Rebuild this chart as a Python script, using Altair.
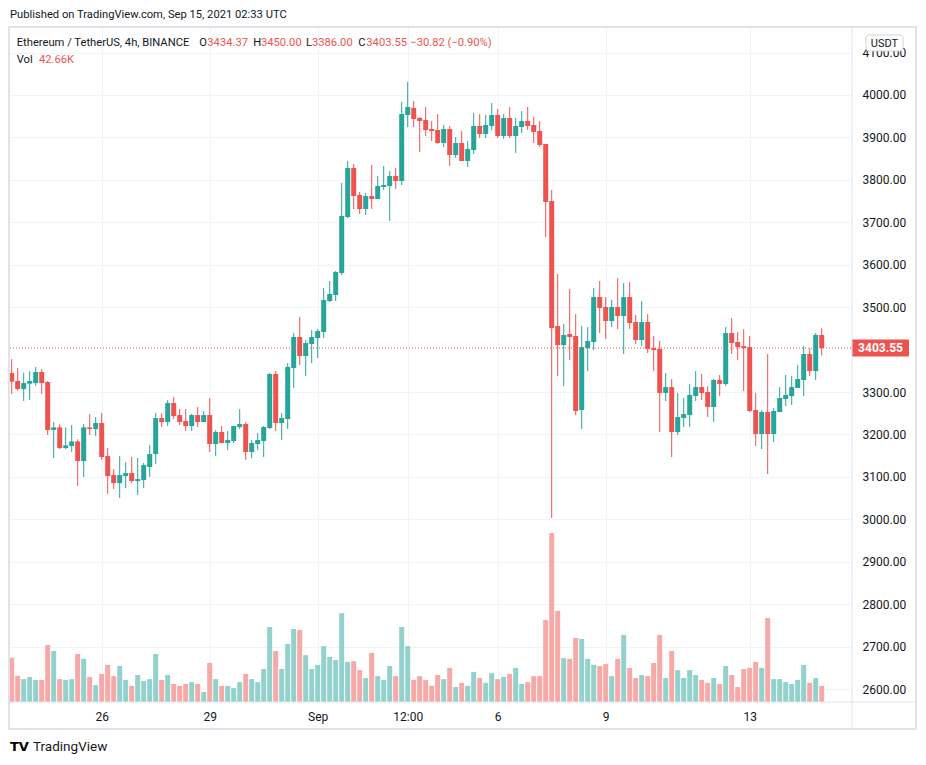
import altair as alt
import pandas as pd

# ---- OHLC (ETH/USDT, 4h candles from 2021-08-23 12:00 UTC) ----
opens = [3344.7, 3325.9, 3307.0, 3319.6, 3321.1, 3347.1, 3323.5, 3210.4, 3216.6, 3167.9,
         3172.6, 3183.6, 3137.3, 3216.6, 3212.7, 3226.9, 3149.1, 3104.3, 3085.4, 3101.9,
         3109.0, 3090.1, 3092.5, 3123.2, 3153.8, 3238.6, 3229.2, 3274.0, 3245.7, 3231.6,
         3219.8, 3245.7, 3229.2, 3245.7, 3177.4, 3205.7, 3179.7, 3184.4, 3217.4, 3224.5,
         3158.5, 3177.4, 3184.4, 3215.1, 3342.4, 3226.9, 3236.3, 3356.5, 3429.6, 3384.8,
         3413.1, 3427.2, 3441.4, 3514.4, 3528.6, 3580.4, 3712.4, 3827.9, 3764.3, 3731.3,
         3761.9, 3754.9, 3783.1, 3785.5, 3809.1, 3797.3, 3952.8, 3969.3, 3945.8, 3941.0,
         3919.8, 3917.5, 3886.8, 3919.8, 3858.6, 3886.8, 3844.4, 3870.3, 3926.9, 3908.0,
         3926.9, 3952.8, 3903.3, 3945.8, 3903.3, 3924.5, 3938.7, 3929.3, 3915.1, 3884.5,
         3750.1, 3455.5, 3410.7, 3436.6, 3432.0, 3257.5, 3403.6, 3417.8, 3523.8, 3500.3,
         3467.3, 3500.3, 3479.1, 3523.8, 3464.9, 3422.5, 3464.9, 3403.6, 3401.3, 3297.6,
         3311.7, 3205.6, 3238.7, 3245.7, 3290.5, 3311.7, 3300.0, 3264.6, 3328.2, 3318.8,
         3439.0, 3417.8, 3408.3, 3406.0, 3257.5, 3201.0, 3252.8, 3201.0, 3252.8, 3283.5,
         3290.5, 3309.4, 3328.2, 3389.5, 3349.4, 3434.37]
highs = [3377.7, 3356.5, 3345.5, 3349.4, 3358.9, 3354.1, 3325.9, 3229.2, 3223.7, 3216.6,
         3222.1, 3188.4, 3224.5, 3248.1, 3241.0, 3250.4, 3167.9, 3118.4, 3149.1, 3134.9,
         3146.7, 3144.4, 3132.6, 3175.0, 3250.4, 3250.4, 3281.1, 3288.1, 3259.9, 3259.9,
         3248.1, 3264.6, 3255.1, 3285.8, 3210.4, 3219.8, 3208.0, 3219.8, 3259.9, 3229.2,
         3186.8, 3203.3, 3219.8, 3344.7, 3349.4, 3250.4, 3368.3, 3439.0, 3476.7, 3422.5,
         3446.1, 3448.4, 3545.1, 3561.6, 3585.2, 3792.6, 3844.4, 3837.4, 3771.4, 3769.0,
         3835.0, 3809.1, 3832.6, 3820.8, 3827.9, 3983.5, 4030.6, 3985.8, 3948.1, 3971.7,
         3938.7, 3955.2, 3929.3, 3926.9, 3901.0, 3915.1, 3891.5, 3957.5, 3955.2, 3952.8,
         3981.1, 3967.0, 3955.2, 3971.7, 3945.8, 3962.3, 3971.7, 3948.1, 3938.7, 3884.5,
         3776.1, 3578.1, 3460.2, 3542.7, 3483.8, 3455.5, 3453.1, 3545.1, 3561.6, 3523.8,
         3516.8, 3568.6, 3556.9, 3559.2, 3481.5, 3514.4, 3483.8, 3431.9, 3420.1, 3344.7,
         3330.6, 3297.6, 3285.8, 3318.8, 3349.4, 3342.4, 3314.1, 3330.6, 3340.0, 3453.2,
         3474.4, 3441.4, 3448.4, 3431.9, 3297.6, 3257.5, 3389.5, 3262.2, 3311.7, 3340.0,
         3337.7, 3363.6, 3408.3, 3403.6, 3439.0, 3450.00]
lows = [3295.2, 3303.1, 3278.7, 3281.1, 3314.9, 3295.2, 3198.6, 3144.4, 3165.6, 3165.6,
        3158.5, 3078.4, 3099.6, 3198.6, 3196.2, 3139.6, 3059.5, 3071.3, 3050.1, 3073.6,
        3085.4, 3057.2, 3073.6, 3099.6, 3130.2, 3217.4, 3219.8, 3236.3, 3222.1, 3208.0,
        3208.0, 3217.4, 3229.2, 3158.5, 3149.1, 3179.7, 3163.2, 3179.7, 3212.7, 3139.7,
        3144.4, 3163.2, 3146.7, 3212.7, 3207.9, 3186.8, 3212.7, 3309.4, 3363.6, 3337.7,
        3368.3, 3380.1, 3427.2, 3512.1, 3514.4, 3575.7, 3710.1, 3731.3, 3719.5, 3717.2,
        3731.3, 3754.9, 3776.1, 3703.0, 3778.4, 3787.8, 3924.5, 3924.5, 3865.6, 3903.3,
        3891.5, 3884.5, 3877.4, 3832.6, 3851.5, 3844.4, 3830.3, 3860.9, 3898.6, 3898.6,
        3917.5, 3898.6, 3896.3, 3898.6, 3863.3, 3910.4, 3917.5, 3886.8, 3877.4, 3665.2,
        3002.9, 3337.6, 3314.1, 3375.4, 3245.7, 3212.7, 3349.4, 3398.9, 3439.0, 3424.8,
        3453.1, 3448.4, 3389.5, 3448.4, 3413.1, 3408.3, 3391.8, 3349.4, 3205.6, 3278.7,
        3146.7, 3198.6, 3217.4, 3217.4, 3278.7, 3281.1, 3241.0, 3229.2, 3290.5, 3314.1,
        3389.5, 3375.4, 3302.3, 3252.8, 3172.7, 3165.6, 3106.7, 3182.1, 3252.8, 3267.0,
        3269.3, 3309.4, 3290.5, 3337.7, 3328.2, 3386.00]
closes = [3324.3, 3307.0, 3321.1, 3325.9, 3347.1, 3321.1, 3210.4, 3216.6, 3167.9, 3174.2,
          3183.6, 3137.3, 3216.6, 3212.7, 3226.9, 3146.7, 3101.9, 3085.4, 3104.3, 3109.0,
          3090.1, 3094.9, 3127.9, 3153.8, 3238.6, 3229.2, 3274.0, 3243.4, 3229.2, 3219.8,
          3245.7, 3229.2, 3245.7, 3177.4, 3205.7, 3179.7, 3186.8, 3219.8, 3224.5, 3158.5,
          3179.7, 3186.8, 3217.4, 3342.4, 3226.9, 3238.7, 3358.9, 3429.6, 3384.8, 3415.4,
          3429.6, 3443.7, 3516.8, 3531.0, 3582.8, 3714.8, 3827.9, 3761.9, 3731.3, 3761.9,
          3754.9, 3785.5, 3787.8, 3809.1, 3797.3, 3955.2, 3971.7, 3943.4, 3938.7, 3917.5,
          3915.1, 3886.8, 3919.8, 3858.6, 3886.8, 3844.4, 3872.7, 3926.9, 3908.0, 3929.3,
          3952.8, 3903.3, 3945.8, 3903.3, 3926.9, 3938.7, 3926.9, 3912.8, 3882.1, 3747.8,
          3450.8, 3410.7, 3434.3, 3429.6, 3255.1, 3406.0, 3420.1, 3523.8, 3497.9, 3467.3,
          3500.3, 3479.1, 3523.8, 3462.6, 3422.5, 3464.9, 3401.3, 3398.9, 3297.6, 3311.7,
          3205.6, 3241.0, 3248.1, 3292.9, 3311.7, 3297.6, 3264.6, 3328.2, 3318.8, 3439.0,
          3415.4, 3406.0, 3403.6, 3255.2, 3201.0, 3252.8, 3201.0, 3255.2, 3285.8, 3292.9,
          3311.7, 3330.6, 3389.5, 3349.4, 3434.3, 3403.55]
# volume in thousands
volumes = [118, 70, 61, 67, 59, 59, 152, 136, 61, 59,
           61, 128, 115, 67, 45, 75, 99, 69, 96, 59,
           43, 72, 56, 61, 128, 59, 72, 48, 43, 48,
           53, 48, 27, 104, 61, 43, 43, 37, 53, 75,
           61, 53, 88, 200, 136, 88, 155, 195, 192, 125,
           88, 99, 149, 120, 112, 237, 107, 109, 85, 64,
           131, 69, 59, 96, 69, 200, 149, 59, 69, 59,
           43, 72, 61, 91, 40, 51, 43, 80, 64, 51,
           77, 61, 67, 75, 91, 48, 53, 69, 69, 219,
           451, 243, 117, 115, 171, 168, 115, 99, 96, 101,
           69, 115, 179, 91, 64, 72, 69, 104, 179, 64,
           136, 85, 64, 85, 72, 59, 51, 64, 48, 96,
           72, 40, 88, 91, 107, 91, 224, 61, 61, 53,
           48, 59, 99, 51, 64, 42.66]

tick_dates = [(2021, 8, 26, 0), (2021, 8, 29, 0), (2021, 9, 1, 0), (2021, 9, 3, 12),
              (2021, 9, 6, 0), (2021, 9, 9, 0), (2021, 9, 13, 0)]
# 3400.00 sits under the last-price badge, as on the reference
price_ticks = [p for p in range(2600, 4200, 100) if p != 3400]

times = pd.date_range("2021-08-23 12:00", periods=len(closes), freq="4h").strftime("%Y-%m-%dT%H:%M:%SZ")
df = pd.DataFrame({"t": list(times), "o": opens, "h": highs, "l": lows, "c": closes, "v": volumes})
last = df.tail(1)
blank = pd.DataFrame({"k": [0]})

G, R = "#26a69a", "#ef5350"
GV, RV = "#93d2cc", "#f7a9a7"
DARK = "#131722"
FONT = "Roboto"
W, H = 842, 674

x_scale = alt.Scale(type="utc", nice=False, padding=0,
                    domain=[alt.DateTime(year=2021, month=8, date=23, hours=10, minutes=52, utc=True),
                            alt.DateTime(year=2021, month=9, date=15, hours=20, minutes=12, utc=True)])
x_axis = alt.Axis(values=[alt.DateTime(year=y, month=m, date=d, hours=hh, utc=True) for y, m, d, hh in tick_dates],
                  labelExpr="utchours(datum.value) == 12 ? '12:00' : (utcdate(datum.value) == 1 ? utcFormat(datum.value, '%b') : '' + utcdate(datum.value))",
                  grid=True, gridColor="#f0f3fa", ticks=False, domain=False, labelPadding=9,
                  labelFontSize=12, labelColor=DARK, labelFont=FONT, title=None, zindex=0,
                  labelFlush=False, labelOverlap=False)
xenc = alt.X("t:T", scale=x_scale, axis=x_axis)

y_scale = alt.Scale(domain=[2569.4, 4157.9], nice=False, zero=False)
y_axis = alt.Axis(orient="right", values=price_ticks, format=".2f", grid=True, gridColor="#f0f3fa",
                  ticks=False, domain=False, labelPadding=10, labelFontSize=12, labelColor=DARK,
                  labelFont=FONT, labelAlign="left", title=None, zindex=0, labelFlush=False,
                  labelOverlap=False)

up = alt.datum.c >= alt.datum.o

vol = alt.Chart(df).mark_bar(width=5).encode(
    x=xenc,
    y=alt.Y("v:Q", scale=alt.Scale(domain=[0, 1797.6], nice=False), axis=None),
    color=alt.condition(up, alt.value(GV), alt.value(RV)),
)
wick = alt.Chart(df).mark_rule(strokeWidth=1).encode(
    x=xenc,
    y=alt.Y("l:Q", scale=y_scale, axis=y_axis),
    y2="h:Q",
    color=alt.condition(up, alt.value(G), alt.value(R)),
)
body = alt.Chart(df).mark_bar(width=5).encode(
    x=xenc,
    y=alt.Y("o:Q", scale=y_scale, axis=None),
    y2="c:Q",
    color=alt.condition(up, alt.value(G), alt.value(R)),
)
last_line = alt.Chart(last).mark_rule(color=R, strokeDash=[1, 2], strokeWidth=1).encode(
    y=alt.Y("c:Q", scale=y_scale, axis=None), x=alt.value(0), x2=alt.value(W))
badge = alt.Chart(last).mark_point(shape="M-1,-0.298H1V0.298H-1Z", size=57 * 57, filled=True,
                                   opacity=1, color=R, strokeWidth=0).encode(
    y=alt.Y("c:Q", scale=y_scale, axis=None), x=alt.value(870.5))
badge_txt = alt.Chart(last).mark_text(color="white", fontWeight="bold", fontSize=12, font=FONT,
                                      align="center", baseline="middle").encode(
    y=alt.Y("c:Q", scale=y_scale, axis=None), x=alt.value(870.5), text=alt.Text("c:Q", format=".2f"))


def rule(**kw):
    return alt.Chart(blank).mark_rule(color="#e0e3eb", strokeWidth=1).encode(**{k: alt.value(v) for k, v in kw.items()})


def txt(s, x, y, color=DARK, size=11.2, weight="normal", align="left", font=FONT):
    return alt.Chart(blank).mark_text(text=s, color=color, fontSize=size, fontWeight=weight, align=align,
                                      baseline="middle", font=font).encode(x=alt.value(x), y=alt.value(y))


frame = alt.Chart(blank).mark_rect(fill="transparent", stroke="#e0e3eb", strokeWidth=2).encode(
    x=alt.value(-1), x2=alt.value(906), y=alt.value(-1), y2=alt.value(701))
vsep = rule(x=W, y=-1, y2=701)
hsep = rule(y=H, x=-1, x2=906)
usdt_box = alt.Chart(blank).mark_rect(fill="white", stroke="#d1d4dc", strokeWidth=1, cornerRadius=3).encode(
    x=alt.value(856), x2=alt.value(893), y=alt.value(7), y2=alt.value(23))
usdt_txt = txt("USDT", 874.5, 15.5, size=11, align="center")

o, h, l, c = opens[-1], highs[-1], lows[-1], closes[-1]
chg = c - o
pct = chg / o * 100
chg_s = f"{chg:+.2f} ({pct:+.2f}%)".replace("-", "\u2212")
pc = R if chg < 0 else G

texts = [
    txt("Published on TradingView.com, Sep 15, 2021 02:33 UTC", 0, -13),
    txt("Ethereum / TetherUS, 4h, BINANCE", 6.7, 14.7),
    txt("O", 189.3, 14.7), txt(f"{o:.2f}", 197.3, 14.7, color=pc),
    txt("H", 243.3, 14.7), txt(f"{h:.2f}", 251, 14.7, color=pc),
    txt("L", 296, 14.7), txt(f"{l:.2f}", 302, 14.7, color=pc),
    txt("C", 348.3, 14.7), txt(f"{c:.2f}", 356.3, 14.7, color=pc),
    txt(chg_s, 400.3, 14.7, color=pc),
    txt("Vol", 6.7, 32), txt(f"{volumes[-1]:.2f}K", 29, 32, color=pc),
    txt("TV", 0, 719, color="#000000", size=13, weight="bold", font="DejaVu Sans"),
    txt("TradingView", 23, 719, size=13.5),
]

chart = alt.layer(
    vol, wick, body, last_line, badge, badge_txt, frame, vsep, hsep, usdt_box, usdt_txt, *texts
).resolve_scale(y="independent").properties(
    width=W, height=H,
    autosize=alt.AutoSizeParams(type="none"),
    padding={"left": 2, "top": 20, "right": 66, "bottom": 52},
    background="white",
).configure_view(stroke=None).configure_text(font=FONT)

chart.save("out.html", embed_options={"renderer": "svg", "actions": False})
